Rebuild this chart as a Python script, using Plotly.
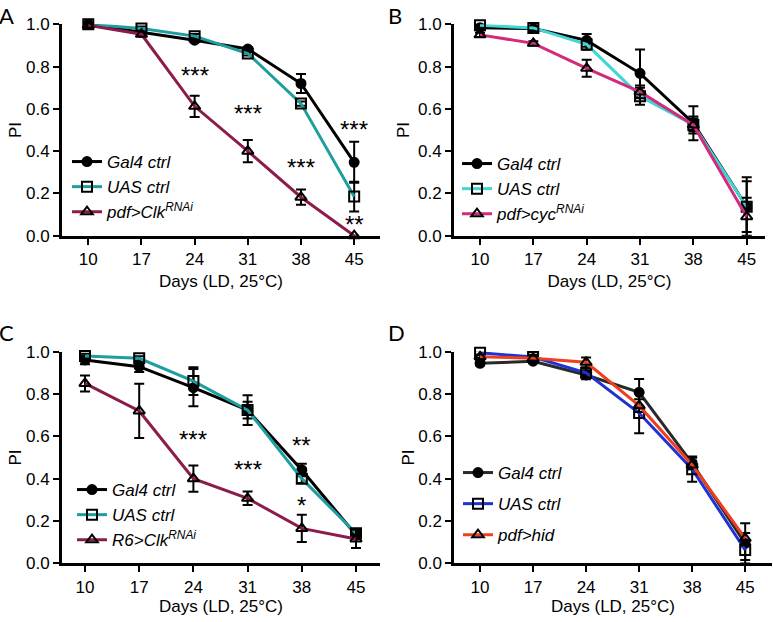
import plotly.graph_objects as go

W, H = 773, 622
days = [10, 17, 24, 31, 38, 45]
tick_days = [10, 17, 24, 31, 38, 45]
y_ticks = [0.0, 0.2, 0.4, 0.6, 0.8, 1.0]
x_title = "Days (LD, 25°C)"
y_title = "PI"

# Panel A
a_gal4 = [1.0, 0.962, 0.925, 0.883, 0.72, 0.347]
a_gal4_err = [0.005, 0.01, 0.01, 0.01, 0.045, 0.097]
a_uas = [1.0, 0.98, 0.944, 0.862, 0.625, 0.185]
a_uas_err = [0.005, 0.01, 0.01, 0.01, 0.01, 0.07]
a_clk = [0.995, 0.953, 0.612, 0.40, 0.182, 0.0]
a_clk_err = [0.005, 0.01, 0.05, 0.053, 0.036, 0.0]

# Panel B
b_gal4 = [0.984, 0.98, 0.924, 0.768, 0.532, 0.137]
b_gal4_err = [0.01, 0.01, 0.03, 0.113, 0.08, 0.14]
b_uas = [0.995, 0.983, 0.905, 0.66, 0.524, 0.137]
b_uas_err = [0.01, 0.01, 0.025, 0.04, 0.03, 0.12]
b_cyc = [0.95, 0.91, 0.792, 0.68, 0.524, 0.09]
b_cyc_err = [0.01, 0.01, 0.04, 0.03, 0.04, 0.09]

# Panel C
c_gal4 = [0.961, 0.929, 0.83, 0.724, 0.441, 0.134]
c_gal4_err = [0.02, 0.025, 0.088, 0.04, 0.03, 0.02]
c_uas = [0.98, 0.969, 0.861, 0.724, 0.40, 0.142]
c_uas_err = [0.01, 0.01, 0.066, 0.07, 0.02, 0.02]
c_r6 = [0.85, 0.72, 0.40, 0.307, 0.165, 0.115]
c_r6_err = [0.038, 0.128, 0.062, 0.032, 0.064, 0.043]

# Panel D
d_gal4 = [0.945, 0.955, 0.89, 0.808, 0.472, 0.094]
d_gal4_err = [0.01, 0.01, 0.02, 0.063, 0.027, 0.095]
d_uas = [0.995, 0.975, 0.90, 0.71, 0.445, 0.063]
d_uas_err = [0.01, 0.01, 0.02, 0.095, 0.06, 0.047]
d_hid = [0.976, 0.969, 0.95, 0.745, 0.465, 0.118]
d_hid_err = [0.01, 0.01, 0.023, 0.03, 0.02, 0.025]

# significance marks: (day, PI, text)
a_sig = [(24, 0.776, "***"), (31, 0.595, "***"), (38, 0.34, "***"),
         (45, 0.52, "***"), (45, 0.074, "**")]
c_sig = [(17, 1.035, "*"), (24, 0.603, "***"), (31, 0.46, "***"),
         (38, 0.575, "**"), (38, 0.291, "*")]

FONT = "Liberation Sans, Arial, sans-serif"
FS = 17

panels = [
    dict(letter="A", xdom=(62, 380), ydom=(24.3, 235.7), xr=(6.54, 48.4),
         legend_xy=(67, 144), gap=0, xstand=8, ystand=1, let_xy=(7, 0),
         series=[("<i>Gal4 ctrl</i>", a_gal4, a_gal4_err, "#000000", "circle", "#000000"),
                 ("<i>UAS ctrl</i>", a_uas, a_uas_err, "#1e9e9e", "square-open", "#000000"),
                 ("<i>pdf&gt;Clk<sup>RNAi</sup></i>", a_clk, a_clk_err, "#8b1c4c", "triangle-up-open", "#000000")],
         sig=a_sig),
    dict(letter="B", xdom=(454, 765), ydom=(24.3, 235.7), xr=(6.59, 47.4),
         legend_xy=(457, 146), gap=0, xstand=8, ystand=5, let_xy=(395, 0),
         series=[("<i>Gal4 ctrl</i>", b_gal4, b_gal4_err, "#000000", "circle", "#000000"),
                 ("<i>UAS ctrl</i>", b_uas, b_uas_err, "#3fd6d6", "square-open", "#000000"),
                 ("<i>pdf&gt;cyc<sup>RNAi</sup></i>", b_cyc, b_cyc_err, "#d42a7c", "triangle-up-open", "#000000")],
         sig=[]),
    dict(letter="C", xdom=(62, 380), ydom=(351.7, 563.3), xr=(7.03, 48.1),
         legend_xy=(72, 472), gap=0, xstand=0, ystand=1, let_xy=(7, 317),
         series=[("<i>Gal4 ctrl</i>", c_gal4, c_gal4_err, "#000000", "circle", "#000000"),
                 ("<i>UAS ctrl</i>", c_uas, c_uas_err, "#1e9e9e", "square-open", "#000000"),
                 ("<i>R6&gt;Clk<sup>RNAi</sup></i>", c_r6, c_r6_err, "#8b1c4c", "triangle-up-open", "#000000")],
         sig=c_sig),
    dict(letter="D", xdom=(454.3, 771.7), ydom=(351.7, 563.3), xr=(6.6, 48.5),
         legend_xy=(458, 455), gap=6, xstand=0, ystand=0, let_xy=(396, 317),
         series=[("<i>Gal4 ctrl</i>", d_gal4, d_gal4_err, "#2a2a2a", "circle", "#000000"),
                 ("<i>UAS ctrl</i>", d_uas, d_uas_err, "#1f33d2", "square-open", "#000000"),
                 ("<i>pdf&gt;hid</i>", d_hid, d_hid_err, "#ee4020", "triangle-up-open", "#000000")],
         sig=[]),
]

fig = go.Figure()
annotations = []
layout = dict(width=W, height=H, margin=dict(l=0, r=0, t=0, b=0),
              paper_bgcolor="white", plot_bgcolor="white",
              font=dict(family=FONT, size=FS, color="black"))

for i, p in enumerate(panels):
    n = "" if i == 0 else str(i + 1)
    xa, ya = "x" + n, "y" + n
    lg = "legend" + n
    for j, (name, vals, err, col, sym, mcol) in enumerate(p["series"]):
        fig.add_trace(go.Scatter(
            x=days, y=vals, name=name, xaxis=xa, yaxis=ya, legend=lg,
            legendgroup=f"p{i}s{j}", mode="lines+markers", cliponaxis=False,
            line=dict(color=col, width=3),
            marker=dict(symbol=sym, size=10 if sym != "circle" else 9, color=mcol,
                        line=dict(color=mcol, width=2)),
            error_y=dict(type="data", array=err, visible=True, color="black",
                         thickness=2, width=5)))
    x0, x1 = p["xdom"]
    yt, yb = p["ydom"]
    axis_common = dict(showline=True, linecolor="black", linewidth=3, ticks="outside",
                       ticklen=6, tickwidth=2, tickcolor="black", showgrid=False,
                       zeroline=False, automargin=False,
                       tickfont=dict(family=FONT, size=FS, color="black"))
    layout["xaxis" + n] = dict(axis_common, domain=[x0 / W, x1 / W], range=list(p["xr"]),
                               tickmode="array", tickvals=tick_days, anchor=ya,
                               title=dict(text=x_title, standoff=p["xstand"],
                                          font=dict(family=FONT, size=FS)))
    layout["yaxis" + n] = dict(axis_common, domain=[1 - yb / H, 1 - yt / H], range=[0, 1],
                               tickmode="array", tickvals=y_ticks, tickformat=".1f",
                               anchor=xa,
                               title=dict(text=y_title, standoff=p["ystand"],
                                          font=dict(family=FONT, size=FS)))
    lx, ly = p["legend_xy"]
    layout[lg] = dict(x=lx / W, y=1 - ly / H, xanchor="left", yanchor="top",
                      bgcolor="rgba(0,0,0,0)", traceorder="grouped",
                      tracegroupgap=p["gap"], itemwidth=30,
                      font=dict(family=FONT, size=FS, color="black"))
    # panel letter
    lxp, lyp = p["let_xy"]
    annotations.append(dict(text=p["letter"], xref="paper", yref="paper",
                            x=lxp / W, y=1 - lyp / H, showarrow=False,
                            xanchor="center", yanchor="top",
                            font=dict(family="Lato, sans-serif", size=22, color="black")))
    for (d, v, t) in p["sig"]:
        annotations.append(dict(text=t, xref=xa, yref=ya, x=d, y=v, showarrow=False,
                                xanchor="center", yanchor="middle", yshift=-4,
                                font=dict(family=FONT, size=24, color="black")))

layout["annotations"] = annotations
fig.update_layout(**layout)
fig.write_html("out.html", config={"displayModeBar": False},
               post_script="document.body.style.margin='0';document.body.style.padding='0';")
